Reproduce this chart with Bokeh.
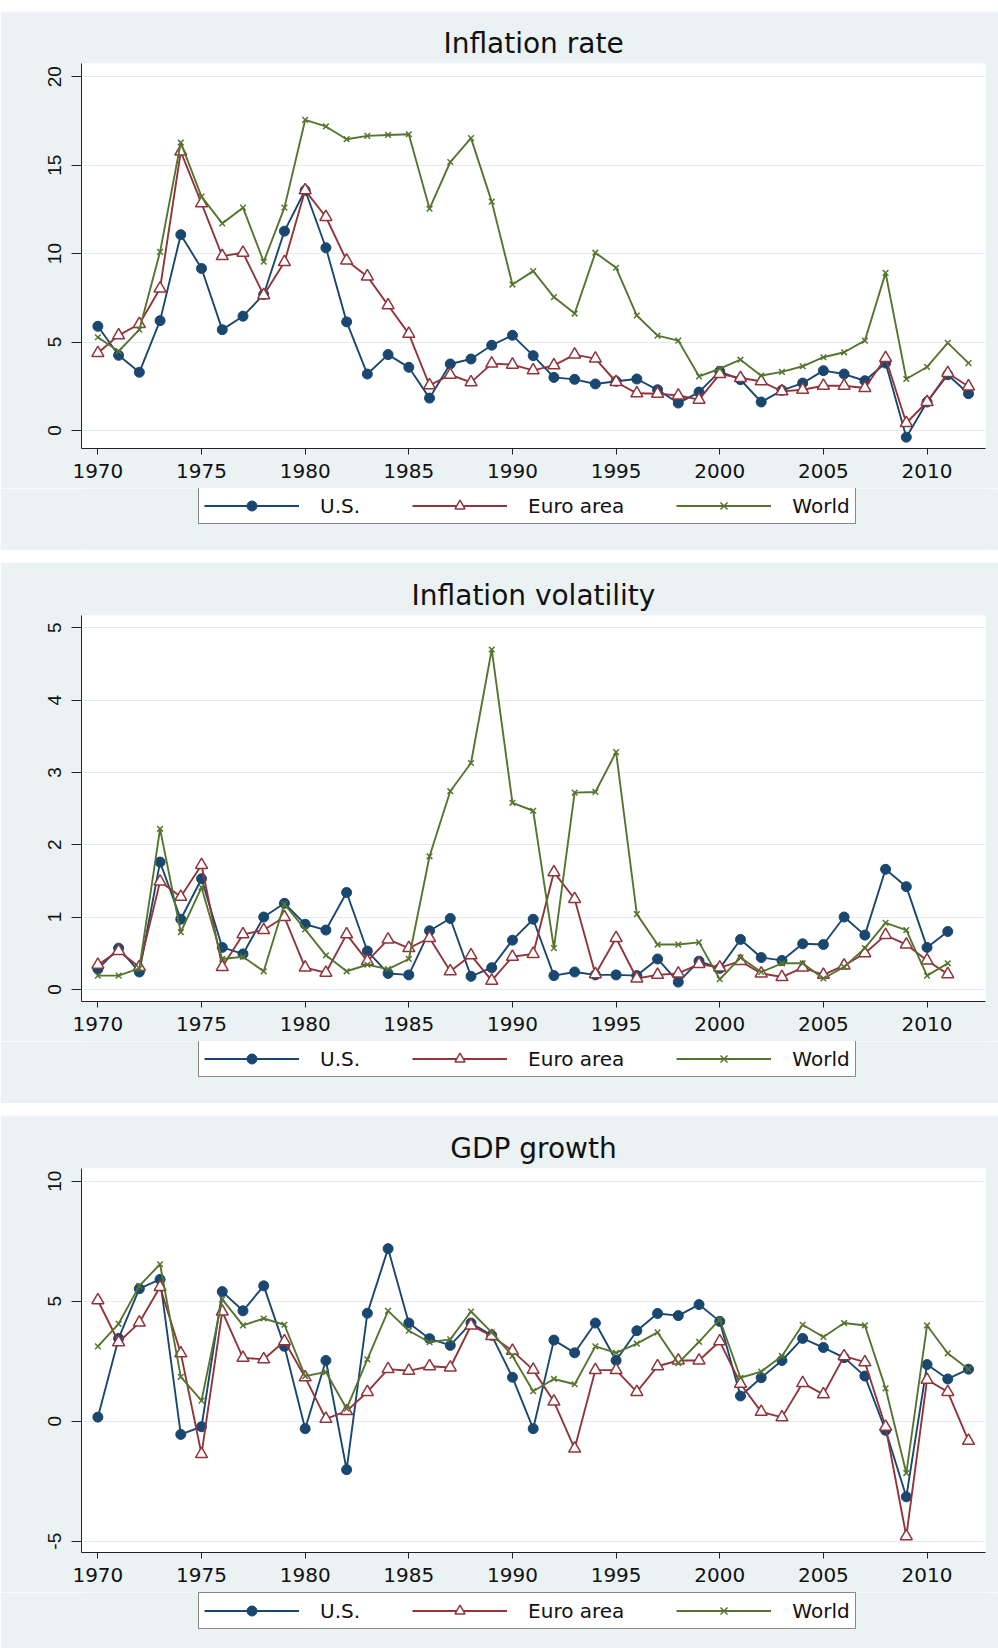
from bokeh.plotting import figure
from bokeh.models import Range1d, FixedTicker, Legend, LegendItem, Spacer
from bokeh.layouts import column
from bokeh.embed import file_html
from bokeh.resources import INLINE

# ---------------- data ----------------
years = list(range(1970, 2013))          # 1970..2012
years_vol = list(range(1970, 2012))      # 1970..2011

us_rate = [5.89, 4.25, 3.29, 6.21, 11.07, 9.16, 5.70, 6.46, 7.69, 11.27,
           13.58, 10.33, 6.14, 3.19, 4.29, 3.57, 1.83, 3.76, 4.04, 4.82,
           5.38, 4.23, 3.00, 2.89, 2.63, 2.78, 2.91, 2.30, 1.55, 2.17,
           3.34, 2.87, 1.61, 2.27, 2.68, 3.38, 3.19, 2.81, 3.81, -0.38,
           1.61, 3.15, 2.08]
euro_rate = [4.38, 5.38, 6.02, 8.03, 15.77, 12.84, 9.86, 10.05, 7.65, 9.52,
             13.58, 12.07, 9.61, 8.71, 7.08, 5.46, 2.55, 3.15, 2.72, 3.78,
             3.72, 3.40, 3.68, 4.29, 4.06, 2.74, 2.10, 2.08, 1.98, 1.74,
             3.19, 2.97, 2.78, 2.21, 2.30, 2.53, 2.53, 2.40, 4.10, 0.42,
             1.61, 3.25, 2.49]
world_rate = [5.27, 4.48, 5.70, 10.10, 16.28, 13.22, 11.71, 12.60, 9.54, 12.60,
              17.56, 17.19, 16.47, 16.66, 16.71, 16.75, 12.54, 15.18, 16.53, 12.94,
              8.25, 9.01, 7.54, 6.61, 10.05, 9.20, 6.50, 5.36, 5.08, 3.06,
              3.49, 4.00, 3.10, 3.31, 3.63, 4.14, 4.42, 5.08, 8.91, 2.91,
              3.59, 4.95, 3.81]

us_vol = [0.28, 0.57, 0.24, 1.76, 0.97, 1.53, 0.58, 0.49, 1.00, 1.19,
          0.90, 0.82, 1.34, 0.53, 0.22, 0.20, 0.81, 0.98, 0.18, 0.30,
          0.68, 0.97, 0.19, 0.24, 0.20, 0.20, 0.19, 0.42, 0.10, 0.39,
          0.29, 0.69, 0.44, 0.40, 0.63, 0.62, 1.00, 0.75, 1.66, 1.42,
          0.58, 0.80]
euro_vol = [0.34, 0.53, 0.31, 1.49, 1.28, 1.72, 0.31, 0.76, 0.82, 1.00,
            0.30, 0.23, 0.76, 0.39, 0.69, 0.57, 0.71, 0.25, 0.47, 0.12,
            0.45, 0.49, 1.62, 1.25, 0.21, 0.71, 0.15, 0.20, 0.22, 0.35,
            0.30, 0.39, 0.22, 0.17, 0.30, 0.20, 0.33, 0.50, 0.75, 0.62,
            0.40, 0.21]
world_vol = [0.19, 0.19, 0.29, 2.22, 0.79, 1.41, 0.42, 0.45, 0.25, 1.18,
             0.83, 0.47, 0.25, 0.34, 0.28, 0.42, 1.84, 2.74, 3.13, 4.70,
             2.58, 2.47, 0.57, 2.72, 2.73, 3.28, 1.04, 0.62, 0.62, 0.65,
             0.14, 0.44, 0.24, 0.36, 0.36, 0.15, 0.31, 0.57, 0.92, 0.82,
             0.19, 0.36]

us_gdp = [0.17, 3.45, 5.52, 5.91, -0.55, -0.23, 5.40, 4.60, 5.64, 3.12,
          -0.31, 2.53, -2.02, 4.50, 7.19, 4.09, 3.44, 3.16, 4.09, 3.58,
          1.83, -0.31, 3.38, 2.85, 4.09, 2.53, 3.77, 4.49, 4.40, 4.86,
          4.16, 1.05, 1.81, 2.53, 3.45, 3.07, 2.65, 1.88, -0.38, -3.15,
          2.36, 1.76, 2.17]
euro_gdp = [5.04, 3.29, 4.11, 5.59, 2.83, -1.37, 4.57, 2.64, 2.58, 3.33,
            1.83, 0.10, 0.42, 1.22, 2.17, 2.10, 2.29, 2.24, 3.99, 3.55,
            2.93, 2.14, 0.82, -1.14, 2.13, 2.13, 1.22, 2.29, 2.53, 2.53,
            3.33, 1.56, 0.39, 0.16, 1.59, 1.12, 2.71, 2.46, -0.23, -4.79,
            1.73, 1.22, -0.82]
world_gdp = [3.12, 4.06, 5.64, 6.54, 1.85, 0.86, 5.08, 3.99, 4.28, 4.02,
             1.88, 2.05, 0.52, 2.58, 4.60, 3.77, 3.29, 3.41, 4.57, 3.70,
             2.72, 1.25, 1.76, 1.54, 3.12, 2.85, 3.23, 3.70, 2.42, 3.31,
             4.24, 1.81, 2.07, 2.72, 4.02, 3.51, 4.09, 3.99, 1.37, -2.16,
             3.99, 2.83, 2.17]

x_ticks = [1970, 1975, 1980, 1985, 1990, 1995, 2000, 2005, 2010]
y_ticks_rate = [0, 5, 10, 15, 20]
y_ticks_vol = [0, 1, 2, 3, 4, 5]
y_ticks_gdp = [-5, 0, 5, 10]
series_names = ["U.S.", "Euro area", "World"]

# ---------------- style ----------------
NAVY = "#1A476F"
MAROON = "#90353B"
GREEN = "#55752F"
BG = "#EAF2F3"
GRID = "#E2EAED"
TXT = "#111111"
W = 998
LEFT = 81
RIGHT = 13


def add_series(p, xs, us, eu, wo):
    l1 = p.line(xs, us, line_color=NAVY, line_width=1.9)
    m1 = p.scatter(xs, us, marker="circle", size=10, fill_color=NAVY,
                   line_color=NAVY)
    l2 = p.line(xs, eu, line_color=MAROON, line_width=1.9)
    m2 = p.scatter(xs, eu, marker="triangle", size=12, fill_color="white",
                   line_color=MAROON, line_width=1.5)
    l3 = p.line(xs, wo, line_color=GREEN, line_width=1.9)
    m3 = p.scatter(xs, wo, marker="x", size=8, line_color=GREEN,
                   line_width=1.5)
    return [[l1, m1], [l2, m2], [l3, m3]]


def make_chart(title, xs, us, eu, wo, y0, y1, yticks, height, top, bottom):
    p = figure(width=W, height=height, output_backend="svg",
               toolbar_location=None, tools="",
               x_range=Range1d(1969.21, 2012.82), y_range=Range1d(y0, y1),
               min_border_left=LEFT, min_border_right=RIGHT,
               min_border_top=top, min_border_bottom=bottom)
    p.border_fill_color = BG
    p.background_fill_color = "white"
    p.outline_line_color = None

    p.title.text = title
    p.title.align = "center"
    p.title.text_font = "DejaVu Sans"
    p.title.text_font_size = "28px"
    p.title.text_font_style = "normal"
    p.title.text_color = TXT
    p.title.standoff = 7

    xa = p.xaxis[0]
    xa.ticker = FixedTicker(ticks=x_ticks)
    xa.major_label_text_font = "DejaVu Sans"
    xa.major_label_text_font_size = "20px"
    xa.major_label_text_color = TXT
    xa.major_tick_out = 6
    xa.major_tick_in = 0
    xa.minor_tick_out = 0
    xa.minor_tick_in = 0
    xa.major_label_standoff = 9
    xa.axis_line_color = "#222222"
    xa.major_tick_line_color = "#222222"

    ya = p.yaxis[0]
    ya.ticker = FixedTicker(ticks=yticks)
    ya.major_label_overrides = {t: str(t) for t in yticks}
    ya.major_label_orientation = "vertical"
    ya.major_label_text_font = "Liberation Sans"
    ya.major_label_text_font_size = "19px"
    ya.major_label_text_color = TXT
    ya.major_tick_out = 10
    ya.major_tick_in = 0
    ya.minor_tick_out = 0
    ya.minor_tick_in = 0
    ya.major_label_standoff = 10
    ya.axis_line_color = "#222222"
    ya.major_tick_line_color = "#222222"

    p.xgrid.visible = False
    p.ygrid.grid_line_color = GRID
    p.ygrid.grid_line_width = 1

    add_series(p, xs, us, eu, wo)
    return p


def make_legend_strip(height, bottom_offset, xs, us, eu, wo):
    # strip under each chart carrying its legend (series kept off-screen)
    q = figure(width=W, height=height, output_backend="svg",
               toolbar_location=None, tools="",
               x_axis_type=None, y_axis_type=None,
               x_range=Range1d(0, 1), y_range=Range1d(0, 1),
               min_border_left=LEFT, min_border_right=RIGHT,
               min_border_top=0, min_border_bottom=0)
    q.border_fill_color = BG
    q.background_fill_color = BG
    q.outline_line_color = None
    rends = add_series(q, xs, us, eu, wo)
    leg = Legend(items=[LegendItem(label=series_names[i], renderers=rends[i])
                        for i in range(3)],
                 orientation="horizontal", location=(117, bottom_offset),
                 glyph_width=95, glyph_height=25, label_height=25,
                 label_standoff=21, spacing=52, padding=5, margin=0,
                 border_line_color="#111111", border_line_width=1.2,
                 background_fill_color="white", background_fill_alpha=1.0,
                 label_text_font="DejaVu Sans", label_text_font_size="20px",
                 label_text_color=TXT)
    q.add_layout(leg)
    return q


p1 = make_chart("Inflation rate", years, us_rate, euro_rate, world_rate,
                -1.02, 20.75, y_ticks_rate, 477, 52, 40)
l1 = make_legend_strip(62, 26, years, us_rate, euro_rate, world_rate)
p2 = make_chart("Inflation volatility", years_vol, us_vol, euro_vol,
                world_vol, -0.168, 5.17, y_ticks_vol, 479, 53, 40)
l2 = make_legend_strip(62, 26, years_vol, us_vol, euro_vol, world_vol)
p3 = make_chart("GDP growth", years, us_gdp, euro_gdp, world_gdp,
                -5.47, 10.53, y_ticks_gdp, 477, 53, 40)
l3 = make_legend_strip(56, 19, years, us_gdp, euro_gdp, world_gdp)

layout = column(Spacer(height=11),
                column(column(p1, l1, spacing=0),
                       column(p2, l2, spacing=0),
                       column(p3, l3, spacing=0), spacing=12),
                spacing=0)

open("out.html", "w").write(file_html(layout, INLINE))
